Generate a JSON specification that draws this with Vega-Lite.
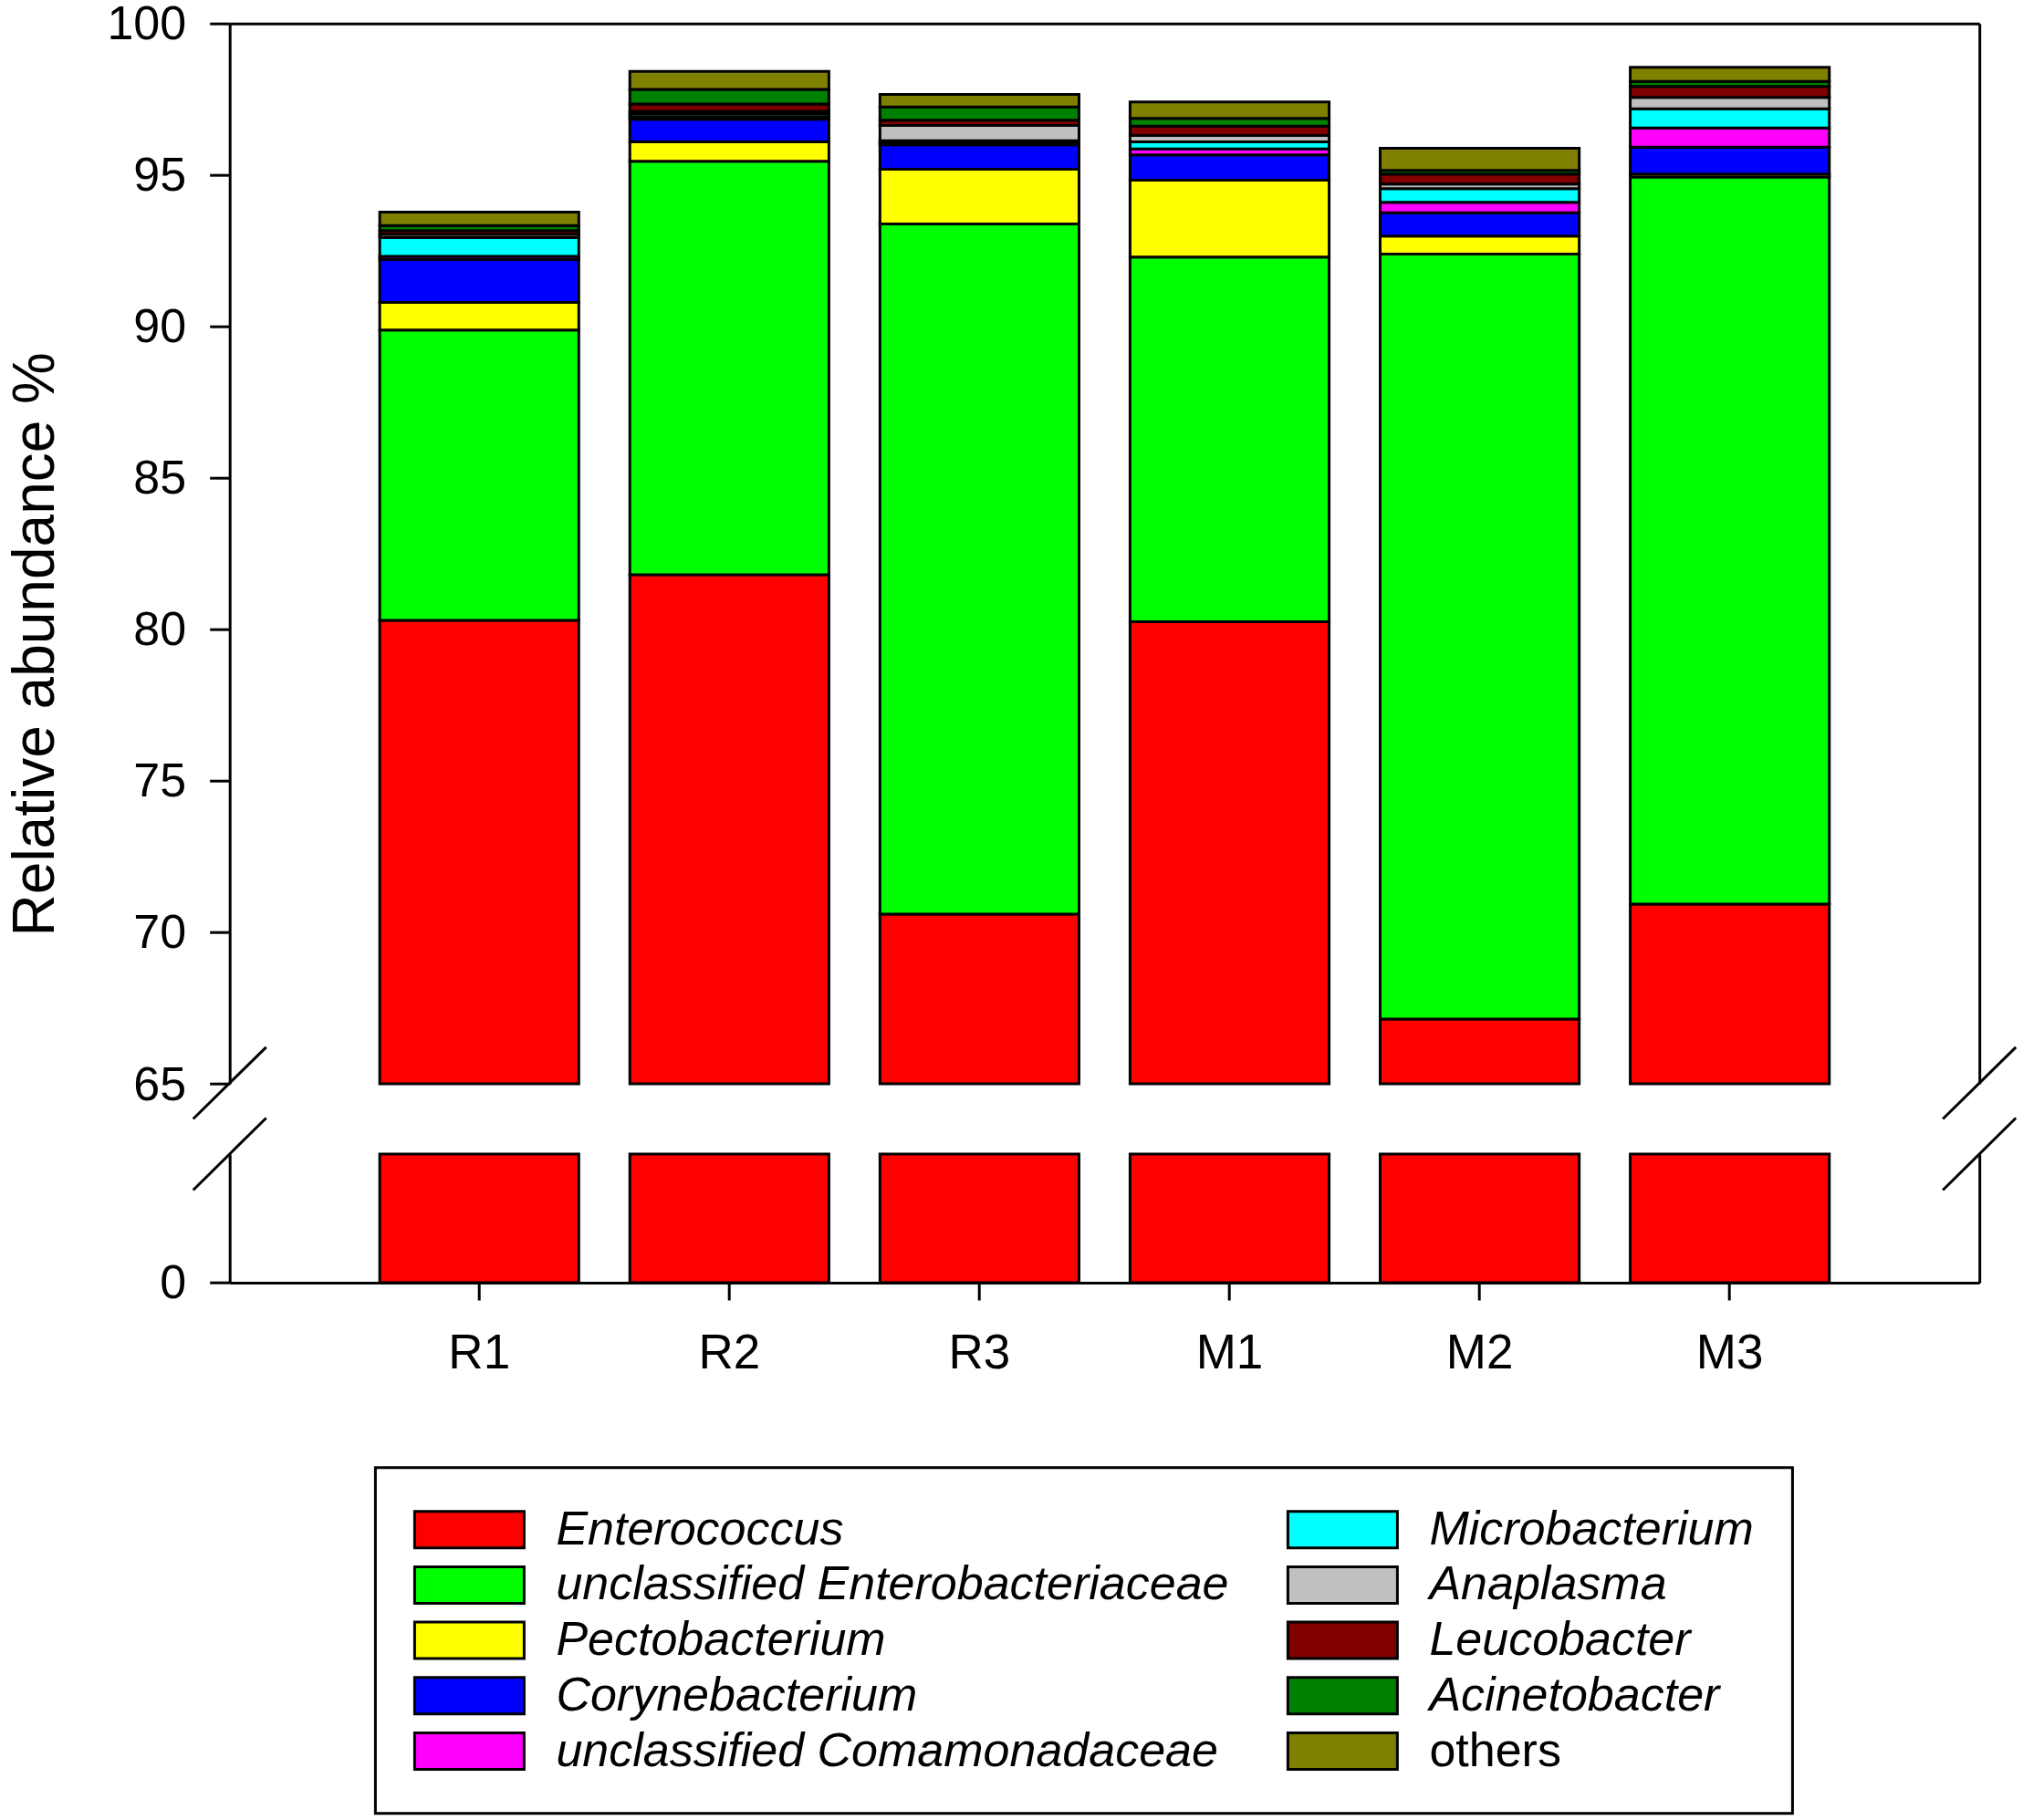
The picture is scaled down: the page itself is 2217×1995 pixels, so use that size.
{
  "$schema": "https://vega.github.io/schema/vega-lite/v6.json",
  "width": 1917.5,
  "height": 1380.3,
  "autosize": {"type": "none"},
  "padding": {"left": 251.7, "top": 25.7, "right": 47.8, "bottom": 589},
  "background": "white",
  "config": {
    "view": {"stroke": null},
    "font": "Liberation Sans",
    "axis": {"domainColor": "black", "domainWidth": 3, "tickColor": "black", "tickWidth": 3, "labelColor": "black", "titleColor": "black", "labelFont": "Liberation Sans", "titleFont": "Liberation Sans", "labelFontSize": 53, "grid": false},
    "legend": {"strokeWidth": 3}
  },
  "datasets": {
    "abund": [
      {"sample": "R1", "genus": "Enterococcus", "value": 80.3},
      {"sample": "R1", "genus": "unclassified Enterobacteriaceae", "value": 9.58},
      {"sample": "R1", "genus": "Pectobacterium", "value": 0.91},
      {"sample": "R1", "genus": "Corynebacterium", "value": 1.42},
      {"sample": "R1", "genus": "unclassified Comamonadaceae", "value": 0.1},
      {"sample": "R1", "genus": "Microbacterium", "value": 0.63},
      {"sample": "R1", "genus": "Anaplasma", "value": 0.1},
      {"sample": "R1", "genus": "Leucobacter", "value": 0.12},
      {"sample": "R1", "genus": "Acinetobacter", "value": 0.17},
      {"sample": "R1", "genus": "others", "value": 0.44},
      {"sample": "R2", "genus": "Enterococcus", "value": 81.8},
      {"sample": "R2", "genus": "unclassified Enterobacteriaceae", "value": 13.65},
      {"sample": "R2", "genus": "Pectobacterium", "value": 0.64},
      {"sample": "R2", "genus": "Corynebacterium", "value": 0.75},
      {"sample": "R2", "genus": "unclassified Comamonadaceae", "value": 0.08},
      {"sample": "R2", "genus": "Microbacterium", "value": 0.1},
      {"sample": "R2", "genus": "Anaplasma", "value": 0.08},
      {"sample": "R2", "genus": "Leucobacter", "value": 0.24},
      {"sample": "R2", "genus": "Acinetobacter", "value": 0.48},
      {"sample": "R2", "genus": "others", "value": 0.6},
      {"sample": "R3", "genus": "Enterococcus", "value": 70.6},
      {"sample": "R3", "genus": "unclassified Enterobacteriaceae", "value": 22.78},
      {"sample": "R3", "genus": "Pectobacterium", "value": 1.81},
      {"sample": "R3", "genus": "Corynebacterium", "value": 0.8},
      {"sample": "R3", "genus": "unclassified Comamonadaceae", "value": 0.06},
      {"sample": "R3", "genus": "Microbacterium", "value": 0.08},
      {"sample": "R3", "genus": "Anaplasma", "value": 0.5},
      {"sample": "R3", "genus": "Leucobacter", "value": 0.18},
      {"sample": "R3", "genus": "Acinetobacter", "value": 0.43},
      {"sample": "R3", "genus": "others", "value": 0.42},
      {"sample": "M1", "genus": "Enterococcus", "value": 80.25},
      {"sample": "M1", "genus": "unclassified Enterobacteriaceae", "value": 12.04},
      {"sample": "M1", "genus": "Pectobacterium", "value": 2.54},
      {"sample": "M1", "genus": "Corynebacterium", "value": 0.83},
      {"sample": "M1", "genus": "unclassified Comamonadaceae", "value": 0.2},
      {"sample": "M1", "genus": "Microbacterium", "value": 0.23},
      {"sample": "M1", "genus": "Anaplasma", "value": 0.21},
      {"sample": "M1", "genus": "Leucobacter", "value": 0.31},
      {"sample": "M1", "genus": "Acinetobacter", "value": 0.26},
      {"sample": "M1", "genus": "others", "value": 0.54},
      {"sample": "M2", "genus": "Enterococcus", "value": 67.14},
      {"sample": "M2", "genus": "unclassified Enterobacteriaceae", "value": 25.25},
      {"sample": "M2", "genus": "Pectobacterium", "value": 0.59},
      {"sample": "M2", "genus": "Corynebacterium", "value": 0.77},
      {"sample": "M2", "genus": "unclassified Comamonadaceae", "value": 0.35},
      {"sample": "M2", "genus": "Microbacterium", "value": 0.45},
      {"sample": "M2", "genus": "Anaplasma", "value": 0.15},
      {"sample": "M2", "genus": "Leucobacter", "value": 0.33},
      {"sample": "M2", "genus": "Acinetobacter", "value": 0.12},
      {"sample": "M2", "genus": "others", "value": 0.73},
      {"sample": "M3", "genus": "Enterococcus", "value": 70.93},
      {"sample": "M3", "genus": "unclassified Enterobacteriaceae", "value": 24.0},
      {"sample": "M3", "genus": "Pectobacterium", "value": 0.1},
      {"sample": "M3", "genus": "Corynebacterium", "value": 0.89},
      {"sample": "M3", "genus": "unclassified Comamonadaceae", "value": 0.63},
      {"sample": "M3", "genus": "Microbacterium", "value": 0.63},
      {"sample": "M3", "genus": "Anaplasma", "value": 0.38},
      {"sample": "M3", "genus": "Leucobacter", "value": 0.36},
      {"sample": "M3", "genus": "Acinetobacter", "value": 0.17},
      {"sample": "M3", "genus": "others", "value": 0.46}
    ],
    "genera": [
      {"genus": "Enterococcus", "rank": 1},
      {"genus": "unclassified Enterobacteriaceae", "rank": 2},
      {"genus": "Pectobacterium", "rank": 3},
      {"genus": "Corynebacterium", "rank": 4},
      {"genus": "unclassified Comamonadaceae", "rank": 5},
      {"genus": "Microbacterium", "rank": 6},
      {"genus": "Anaplasma", "rank": 7},
      {"genus": "Leucobacter", "rank": 8},
      {"genus": "Acinetobacter", "rank": 9},
      {"genus": "others", "rank": 10}
    ]
  },
  "data": {"name": "abund"},
  "transform": [
    {"lookup": "genus", "from": {"data": {"name": "genera"}, "key": "genus", "fields": ["rank"]}}
  ],
  "resolve": {"scale": {"y": "independent"}, "axis": {"x": "independent", "y": "independent"}},
  "layer": [
    {
      "mark": {"type": "bar", "stroke": "black", "strokeWidth": 3},
      "encoding": {
        "x": {"field": "sample", "type": "nominal", "sort": ["R1", "R2", "R3", "M1", "M2", "M3"],
              "scale": {"paddingInner": 0.204, "paddingOuter": 0.6},
              "axis": {"orient": "bottom", "title": null, "labelAngle": 0, "tickSize": 19, "labelPadding": 32, "labelFontSize": 53}},
        "y": {"field": "value", "type": "quantitative", "stack": "zero",
              "scale": {"domain": [65, 100], "range": [1162.3, 0], "clamp": true, "nice": false, "zero": false},
              "axis": {"orient": "left", "values": [65, 70, 75, 80, 85, 90, 95, 100], "tickSize": 22, "labelPadding": 26, "labelFontSize": 52, "labelOffset": 1,
                       "title": "Relative abundance %", "titleFontSize": 64, "titleFontWeight": "normal",
                       "titleX": -193, "titleY": 680, "titleAngle": -90, "titleBaseline": "alphabetic", "titleAlign": "center"}},
        "color": {"field": "genus", "type": "nominal",
                  "scale": {"domain": ["Enterococcus", "unclassified Enterobacteriaceae", "Pectobacterium", "Corynebacterium", "unclassified Comamonadaceae", "Microbacterium", "Anaplasma", "Leucobacter", "Acinetobacter", "others"],
                            "range": ["#ff0000", "#00ff00", "#ffff00", "#0000ff", "#ff00ff", "#00ffff", "#c0c0c0", "#800000", "#008000", "#808000"]},
                  "legend": {"orient": "none", "legendX": 159.7, "legendY": 1583, "columns": 2, "title": null,
                             "symbolType": "M-2.553,-0.851H2.553V0.851H-2.553Z", "symbolSize": 2209,
                             "symbolStrokeColor": "black", "symbolStrokeWidth": 3, "symbolOpacity": 1, "symbolOffset": 35,
                             "labelFontSize": 52, "labelFont": "Liberation Sans", "labelColor": "black",
                             "labelFontStyle": {"expr": "datum.value == 'others' ? 'normal' : 'italic'"},
                             "labelOffset": 69, "rowPadding": 8.7, "columnPadding": 58, "labelLimit": 2000,
                             "padding": 42, "strokeColor": "black"}},
        "order": {"field": "rank", "type": "quantitative", "sort": "ascending"}
      }
    },
    {
      "transform": [{"filter": "datum.genus == 'Enterococcus'"}],
      "mark": {"type": "bar", "stroke": "black", "strokeWidth": 3},
      "encoding": {
        "x": {"field": "sample", "type": "nominal", "sort": ["R1", "R2", "R3", "M1", "M2", "M3"],
              "scale": {"paddingInner": 0.204, "paddingOuter": 0.6},
              "axis": {"orient": "top", "title": null, "labels": false, "ticks": false, "domain": true}},
        "y": {"field": "value", "type": "quantitative",
              "scale": {"domain": [0, 65], "range": [1380.3, 1239.3], "clamp": true, "nice": false},
              "axis": {"orient": "left", "values": [0], "tickSize": 22, "labelPadding": 26, "labelFontSize": 52, "title": null}},
        "color": {"field": "genus", "type": "nominal"}
      }
    },
    {
      "data": {"values": [{}]},
      "mark": {"type": "rule", "strokeWidth": 3, "color": "black"},
      "encoding": {
        "x": {"value": -40}, "x2": {"value": 40},
        "y": {"datum": 63.84, "type": "quantitative", "scale": {"domain": [65, 100], "range": [1162.3, 0], "nice": false, "zero": false},
              "axis": {"orient": "right", "labels": false, "ticks": false, "title": null, "domain": true}},
        "y2": {"datum": 66.21}
      }
    },
    {
      "data": {"values": [{}]},
      "mark": {"type": "rule", "strokeWidth": 3, "color": "black"},
      "encoding": {
        "x": {"value": -40}, "x2": {"value": 40},
        "y": {"datum": 46.8, "type": "quantitative", "scale": {"domain": [0, 65], "range": [1380.3, 1239.3], "nice": false},
              "axis": {"orient": "right", "labels": false, "ticks": false, "title": null, "domain": true}},
        "y2": {"datum": 83.2}
      }
    },
    {
      "data": {"values": [{}]},
      "mark": {"type": "rule", "strokeWidth": 3, "color": "black"},
      "encoding": {
        "x": {"value": 1877.5}, "x2": {"value": 1957.5},
        "y": {"datum": 63.84, "type": "quantitative", "scale": {"domain": [65, 100], "range": [1162.3, 0], "nice": false, "zero": false}, "axis": null},
        "y2": {"datum": 66.21}
      }
    },
    {
      "data": {"values": [{}]},
      "mark": {"type": "rule", "strokeWidth": 3, "color": "black"},
      "encoding": {
        "x": {"value": 1877.5}, "x2": {"value": 1957.5},
        "y": {"datum": 46.8, "type": "quantitative", "scale": {"domain": [0, 65], "range": [1380.3, 1239.3], "nice": false}, "axis": null},
        "y2": {"datum": 83.2}
      }
    }
  ]
}
